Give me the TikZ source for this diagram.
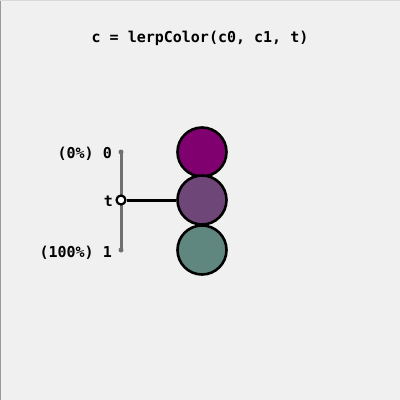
\documentclass[tikz,border=0pt]{standalone}
\usepackage{fontspec}
\setmonofont{DejaVu Sans Mono}
\usetikzlibrary{positioning}
\definecolor{bgcol}{RGB}{240,240,240}
\definecolor{cfrom}{RGB}{128,0,112}
\definecolor{cmid}{RGB}{111,70,120}
\definecolor{cto}{RGB}{95,135,128}
\definecolor{railcol}{RGB}{112,112,112}
\begin{document}
\begin{tikzpicture}[x=1pt, y=-1pt,
		swatch/.style={circle, draw=black, line width=2.6pt, minimum size=49pt, inner sep=0pt},
		lbl/.style={font=\ttfamily\bfseries\fontsize{15}{15}\selectfont, anchor=east, inner sep=0pt},
		tip/.style={circle, fill=railcol, minimum size=5pt, inner sep=0pt}]
		\fill[bgcol] (0,0) rectangle (400,400);
		\useasboundingbox (0,0) rectangle (400,400);
		\draw[gray!80, line width=1pt] (0.5,400) -- (0.5,0);
		\draw[gray!30, line width=1pt] (0,0.5) -- (400,0.5);
		\node[font=\ttfamily\bfseries\fontsize{15}{15}\selectfont] (title) at (200,38) {c = lerpColor(c0, c1, t)};
		% rail from 0 to 1
		\node[tip] (R0) at (121,152) {}; \node[tip] (R1) at (121,250) {};
		\draw[railcol, line width=3pt] (R0.center) -- (R1.center);
		\node[swatch, fill=cfrom] (C0) at (202,152) {};
		\node[swatch, fill=cto] (C1) at (202,250) {};
		\node[swatch, fill=cmid] (C) at (202,200) {};
		\node[circle, draw=black, fill=white, line width=2.2pt, minimum size=9pt, inner sep=0pt] (T) at (121,200) {};
		\draw[black, line width=3pt] (T) -- (C);
		\node[lbl] (L0) at (112,154) {(0\%) 0};
		\node[lbl] (Lt) at (113,201) {t};
		\node[lbl] (L1) at (112,253) {(100\%) 1};
	\end{tikzpicture}
\end{document}
